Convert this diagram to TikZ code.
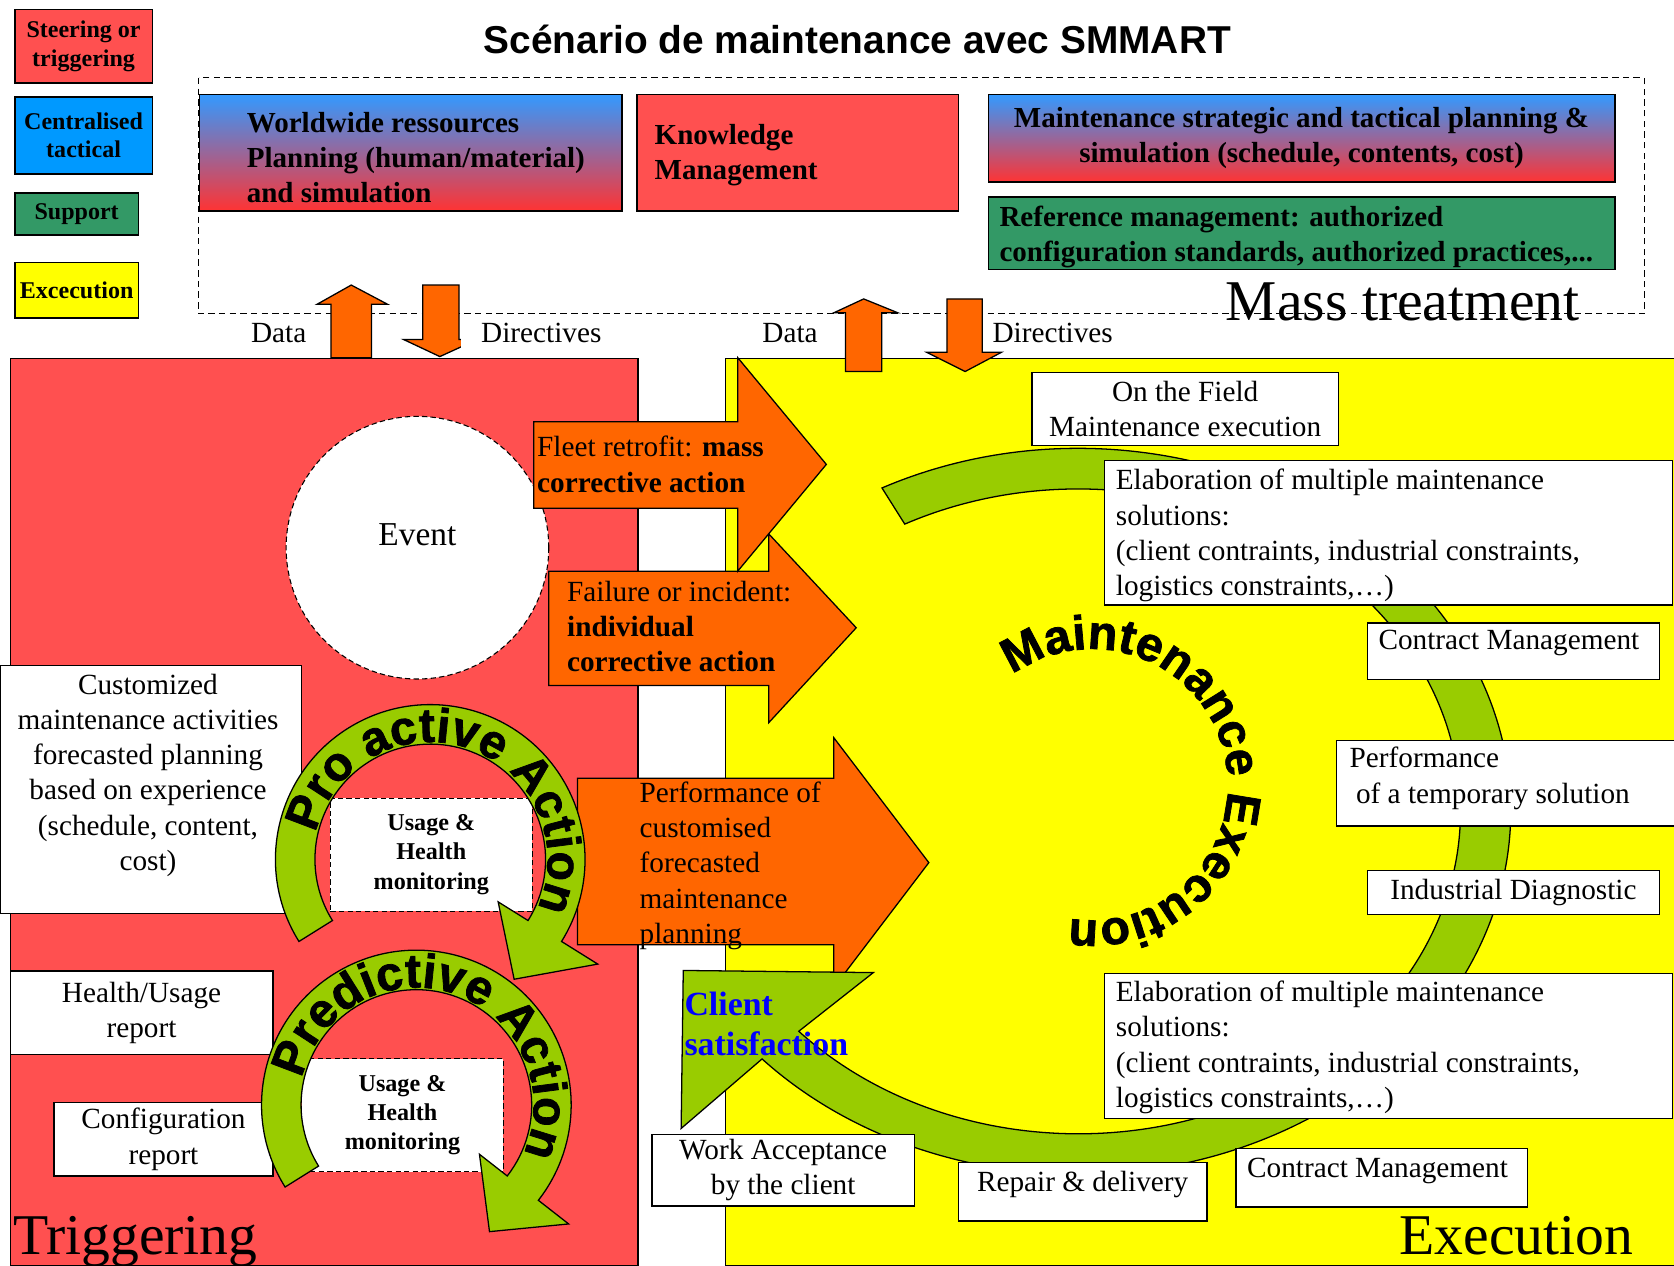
\documentclass[tikz,border=0pt]{standalone}
\usepackage{fontspec}
\setmainfont{Liberation Serif}
\setsansfont{Liberation Sans}
\newfontfamily\blackfont{Liberation Sans}[UprightFont={* Bold},FakeBold=1.6]
\usepackage{tikz}
\usetikzlibrary{positioning,calc,decorations.text}
\definecolor{trigred}{RGB}{255,80,80}
\definecolor{gradblue}{RGB}{51,153,255}
\definecolor{gradred}{RGB}{255,51,51}
\definecolor{legblue}{RGB}{0,153,255}
\definecolor{supgreen}{RGB}{51,153,102}
\definecolor{execyellow}{RGB}{255,255,0}
\definecolor{arrorange}{RGB}{255,102,0}
\definecolor{ringgreen}{RGB}{153,204,0}
\definecolor{clientblue}{RGB}{0,0,255}

\newcommand\bodyfont{\fontsize{27.4}{33}\selectfont}
\newcommand\boxbold{\fontsize{27.2}{33}\selectfont\bfseries}
\newcommand\legendfont{\fontsize{22.5}{27}\selectfont\bfseries}
\newcommand\monfont{\fontsize{22.6}{27.5}\selectfont\bfseries}
\newcommand\panelfont{\fontsize{54}{60}\selectfont}
\newcommand\curvefont{\fontsize{45}{45}\selectfont\blackfont}
\newcommand\titlefont{\fontsize{36.4}{40}\selectfont\sffamily\bfseries}
\newcommand\clientfont{\fontsize{31.7}{38}\selectfont\bfseries}
\newcommand\eventfont{\fontsize{31.3}{36}\selectfont}

\begin{document}
\begin{tikzpicture}[
    x=1pt,y=1pt,
    wbox/.style={draw,fill=white,line width=1.2pt,anchor=north west,inner sep=0pt,align=center,font=\bodyfont},
    dbox/.style={wbox,dash pattern=on 5pt off 3pt,line width=1pt,font=\monfont},
    legbox/.style={draw,line width=1.6pt,anchor=north west,inner sep=0pt,align=center,font=\legendfont},
    gradbox/.style={draw,line width=1.2pt,anchor=north west,inner sep=0pt,top color=gradblue,bottom color=gradred,align=center,font=\boxbold},
    colbox/.style={draw,line width=1.2pt,anchor=north west,inner sep=0pt},
    txt/.style={inner sep=0pt,align=left,font=\bodyfont},
    flowlabel/.style={fill=white,inner ysep=6pt,font=\bodyfont},
    orangeshape/.style={draw,fill=arrorange,line width=1.2pt},
    greenshape/.style={draw,fill=ringgreen,line width=1.2pt}
  ]
    \fill[white] (0,0) rectangle (1568,-1185);
    \useasboundingbox (0,0) rectangle (1568,-1185);

    % TITLE AND LEGEND
    \node[font=\titlefont] (title) at (803,-37) {Scénario de maintenance avec SMMART};
    \node[legbox,fill=trigred,minimum width=129pt,minimum height=69pt] (steer) at (13,-8) {Steering or\\triggering};
    \node[legbox,fill=legblue,minimum width=129pt,minimum height=72pt] (central) at (13,-90) {Centralised\\tactical};
    \node[legbox,fill=supgreen,minimum width=116pt,minimum height=39pt] (support) at (13,-180) {Support};
    \node[legbox,fill=execyellow,minimum width=116pt,minimum height=52pt] (excec) at (13,-245) {Excecution};

    % MASS TREATMENT
    \draw[dash pattern=on 6pt off 4pt,line width=1pt] (186,-73) rectangle (1540,-294);
    \node[gradbox,minimum width=396pt,minimum height=109pt] (world) at (186,-88) {};
    \node[txt,font=\boxbold,right=45pt of world.west,yshift=-4.5pt] (worldtxt) {Worldwide ressources\\Planning (human/material)\\and simulation};
    \node[colbox,fill=trigred,minimum width=301pt,minimum height=109pt] (know) at (596,-88) {};
    \node[txt,font=\boxbold,right=17pt of know.west,yshift=-2pt] (knowtxt) {Knowledge\\Management};
    \node[gradbox,minimum width=587pt,minimum height=82pt] (strat) at (925,-88) {Maintenance strategic and tactical planning \&\\simulation (schedule, contents, cost)};
    \node[colbox,fill=supgreen,minimum width=587pt,minimum height=68pt] (refm) at (925,-184) {};
    \node[txt,font=\boxbold,right=11pt of refm.west,yshift=-3.5pt] (refmtxt) {Reference management: authorized\\configuration standards, authorized practices,...};

    % PANELS
    \node[colbox,fill=trigred,minimum width=588pt,minimum height=850pt] (trigpanel) at (9,-335) {};
    \node[colbox,fill=execyellow,minimum width=889pt,minimum height=850pt] (execpanel) at (679,-335) {};

    % Data / Directives
    \node[flowlabel,inner xsep=6pt] (dataL) at (261,-312) {Data};
    \node[flowlabel,inner xsep=20pt] (dataR) at (740,-312) {Data};
    \node[flowlabel,inner xsep=4pt] (dirR) at (986,-312) {Directives};
    \node[font=\panelfont,anchor=base] (mass) at (1314,-300) {Mass treatment};
    \draw[orangeshape] (310,-335) -- (310,-285) -- (297,-285) -- (329,-267) -- (363,-285) -- (348,-285) -- (348,-335) -- cycle;
    \draw[orangeshape] (396,-267) -- (430,-267) -- (430,-318) -- (447,-318) -- (412,-334) -- (378,-318) -- (396,-318) -- cycle;
    \draw[orangeshape] (792,-348) -- (792,-293) -- (781,-293) -- (809,-280) -- (841,-293) -- (826,-293) -- (826,-348) -- cycle;
    \draw[orangeshape] (887,-280) -- (920,-280) -- (920,-330) -- (938,-330) -- (904,-348) -- (868,-330) -- (887,-330) -- cycle;
    \node[flowlabel,inner xsep=19pt] (dirL) at (507,-312) {Directives};

    % TRIGGERING
    \node[draw,circle,fill=white,dash pattern=on 5pt off 3pt,line width=1pt,minimum size=246pt,inner sep=0pt] (event) at (391,-513) {};
    \node[font=\eventfont] (eventtxt) at ([yshift=12pt]event.center) {Event};
    \node[wbox,minimum width=282pt,minimum height=232pt] (custom) at (0,-623) {};
    \node[txt,align=center] (customtxt) at ([xshift=-3pt,yshift=13.5pt]custom.center) {Customized\\maintenance activities\\forecasted planning\\based on experience\\(schedule, content,\\cost)};
    \node[wbox,minimum width=246pt,minimum height=78pt] (hureport) at (9,-909) {Health/Usage\\report};
    \node[wbox,minimum width=205pt,minimum height=69pt] (confreport) at (50,-1032) {Configuration\\report};
    \node[dbox,minimum width=189pt,minimum height=106pt] (usage1) at (309,-747) {Usage \&\\Health\\monitoring};
    \node[dbox,minimum width=189pt,minimum height=106pt] (usage2) at (282,-991) {Usage \&\\Health\\monitoring};

    % Orange arrows
    \draw[orangeshape] (541,-729) -- (781,-729) -- (781,-691) -- (870,-808) -- (781,-925) -- (781,-885) -- (541,-885) -- cycle;
    \node[txt,anchor=west] (perftxt) at (599,-811) {Performance of\\customised\\forecasted\\maintenance\\planning};
    \draw[orangeshape] (514,-535) -- (720,-535) -- (720,-500) -- (802,-588) -- (720,-677) -- (720,-642) -- (514,-642) -- cycle;
    \node[txt,anchor=west] (failtxt) at (531,-587) {Failure or incident:\\\textbf{individual}\\\textbf{corrective action}};
    \draw[orangeshape] (500,-395) -- (691,-395) -- (691,-335) -- (774,-435) -- (691,-535) -- (691,-476) -- (500,-476) -- cycle;
    \node[txt,anchor=west] (fleettxt) at (503,-435) {Fleet retrofit: \textbf{mass}\\\textbf{corrective action}};

    % EXECUTION ring
    \coordinate (ringc) at (1010,-760);
    \draw[greenshape] (640,-909) -- (818,-911) -- ($(ringc)+(-137:358 and 302)$)
      arc[start angle=-137,end angle=117,x radius=358,y radius=302]
      -- ($(ringc)+(117:405 and 340)$)
      arc[start angle=117,end angle=-137,x radius=405,y radius=340]
      -- (638,-1057) -- cycle;
    \node[txt,font=\clientfont,text=clientblue,anchor=west] (client) at (641,-959) {Client\\satisfaction};

    \node[wbox,minimum width=287pt,minimum height=69pt] (field) at (966,-348) {On the Field\\Maintenance execution};
    \node[wbox,minimum width=532pt,minimum height=135pt] (elab1) at (1034,-431) {};
    \node[txt,right=11pt of elab1.west,yshift=-2.5pt] (elab1txt) {Elaboration of multiple maintenance\\solutions:\\(client contraints, industrial constraints,\\logistics constraints,…)};
    \node[wbox,minimum width=274pt,minimum height=53pt] (contract1) at (1280,-583) {};
    \node[txt,right=11pt of contract1.west,yshift=7.5pt] (contract1txt) {Contract Management};
    \node[wbox,minimum width=317pt,minimum height=80pt] (perf) at (1251,-693) {};
    \node[txt,right=13pt of perf.west,yshift=4.5pt] (perftmp) {Performance\\\hspace*{6pt}of a temporary solution};
    \node[wbox,minimum width=274pt,minimum height=41pt] (industrial) at (1280,-815) {Industrial Diagnostic};
    \node[wbox,minimum width=532pt,minimum height=136pt] (elab2) at (1034,-911) {};
    \node[txt,right=11pt of elab2.west,yshift=-1.5pt] (elab2txt) {Elaboration of multiple maintenance\\solutions:\\(client contraints, industrial constraints,\\logistics constraints,…)};
    \node[wbox,minimum width=246pt,minimum height=67pt] (workacc) at (610,-1062) {Work Acceptance\\by the client};
    \node[wbox,minimum width=233pt,minimum height=55pt] (repair) at (897,-1088) {};
    \node[txt] (repairtxt) at ([yshift=6.5pt]repair.center) {Repair \& delivery};
    \node[wbox,minimum width=273pt,minimum height=55pt] (contract2) at (1157,-1075) {};
    \node[txt,right=11pt of contract2.west,yshift=6.5pt] (contract2txt) {Contract Management};

    % Pro active / Predictive arrows
    \coordinate (proc) at (403,-805);
    \draw[greenshape] ($(proc)+(212:145)$) arc[start angle=212,end angle=-32,radius=145]
      -- ($(proc)+(-32:185)$) -- ($(proc)+(-55:137)$) -- ($(proc)+(-32:75)$)
      -- ($(proc)+(-32:108)$) arc[start angle=-32,end angle=212,radius=108] -- cycle;
    \coordinate (predc) at (390,-1035);
    \draw[greenshape] ($(predc)+(212:145)$) arc[start angle=212,end angle=-38,radius=145]
      -- ($(predc)+(-38:181)$) -- ($(predc)+(-60:137)$) -- ($(predc)+(-38:75)$)
      -- ($(predc)+(-38:108)$) arc[start angle=-38,end angle=212,radius=108] -- cycle;

    % Curved labels
    \path[decorate,decoration={text along path,text={|\curvefont|Pro active Action}}]
      ($(proc)+(167:110)$) arc[start angle=167,end angle=-70,radius=110];
    \path[decorate,decoration={text along path,text={|\curvefont|Predictive Action}}]
      ($(predc)+(167:110)$) arc[start angle=167,end angle=-70,radius=110];
    \coordinate (mtc) at (1023,-735);
    \path[decorate,decoration={text along path,text={|\curvefont|Maintenance Execution}}]
      ($(mtc)+(126:127)$) arc[start angle=126,end angle=-170,radius=127];

    % Panel titles
    \node[font=\panelfont,anchor=base west,inner sep=0pt] (trigtitle) at (12,-1175) {Triggering};
    \node[font=\panelfont,anchor=base east,inner sep=0pt] (exectitle) at (1530,-1175) {Execution};
\end{tikzpicture}
\end{document}
